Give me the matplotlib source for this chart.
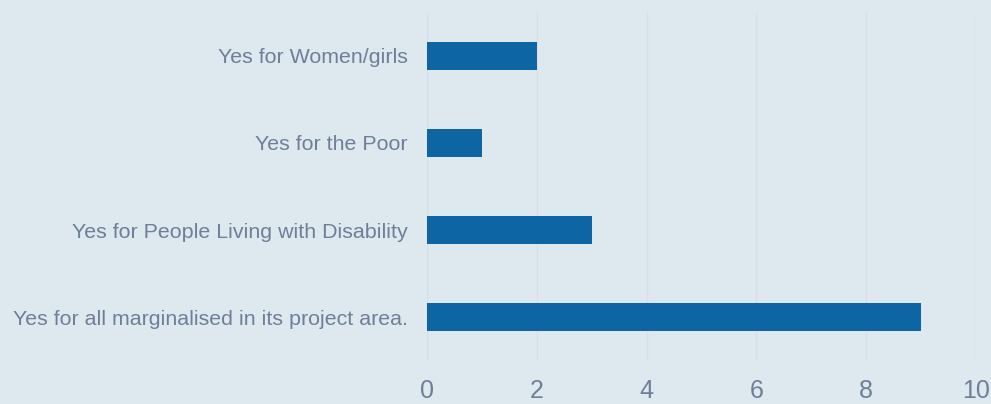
import matplotlib

matplotlib.use("Agg")
import matplotlib.pyplot as plt

categories = [
    "Yes for Women/girls",
    "Yes for the Poor",
    "Yes for People Living with Disability",
    "Yes for all marginalised in its project area.",
]
counts = [2, 1, 3, 9]
x_ticks = [0, 2, 4, 6, 8, 10]

bg = "#dee8ef"
bar_color = "#0d65a3"
text_color = "#6e7f97"

plt.rcParams["font.family"] = ["Liberation Sans", "DejaVu Sans"]

fig = plt.figure(figsize=(9.91, 4.04), dpi=100, facecolor=bg)
ax = fig.add_axes([0.4309, 0.1064, 0.554, 0.8639], facecolor=bg)

ypos = list(range(len(categories)))
ax.barh(ypos, counts, height=0.32, color=bar_color, zorder=3)

ax.set_ylim(len(categories) - 0.5, -0.5)
ax.set_xlim(0, 10)
ax.set_yticks(ypos)
ax.set_yticklabels(categories)
ax.set_xticks(x_ticks)
ax.set_xticklabels([str(t) for t in x_ticks])

ax.tick_params(axis="y", length=0, pad=14, labelsize=15.4, labelcolor=text_color)
ax.tick_params(axis="x", length=0, pad=13, labelsize=18, labelcolor=text_color)

ax.grid(axis="x", color="#d9dfe6", linewidth=1, zorder=0)
for spine in ax.spines.values():
    spine.set_visible(False)

fig.savefig("out.png", dpi=100, facecolor=bg)
